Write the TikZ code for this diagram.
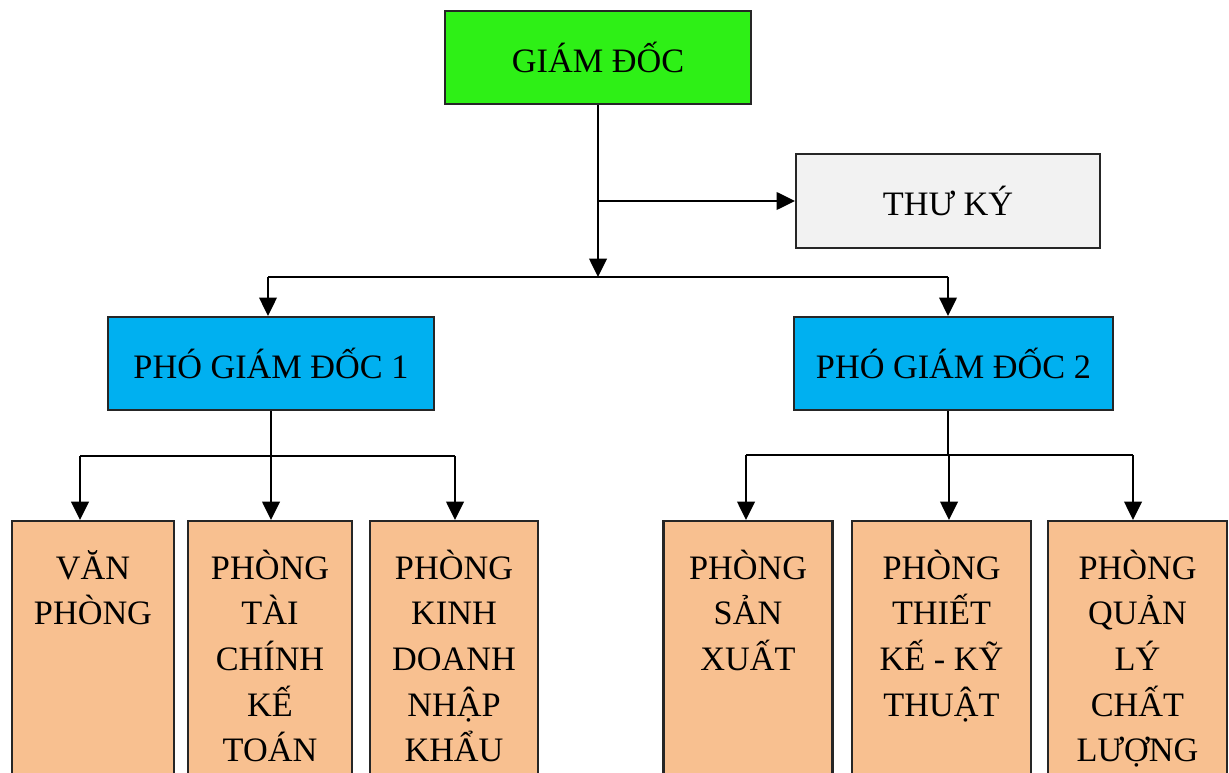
\documentclass[tikz,border=0pt]{standalone}
\usepackage{fontspec}
\setmainfont{Liberation Serif}
\usetikzlibrary{arrows.meta}

\definecolor{gdgreen}{HTML}{2EF016}
\definecolor{pgdblue}{HTML}{00B0F0}
\definecolor{phorange}{HTML}{F8C090}
\definecolor{tkgray}{HTML}{F2F2F2}

% text lines hanging from the first baseline
\newcommand{\deptlines}[1]{\begin{tabular}[t]{@{}c@{}}#1\end{tabular}}

\tikzset{
  box/.style={draw=black!85, line width=1.2pt, inner sep=0pt,
    font=\fontsize{19.5}{26}\selectfont},
  head/.style={box, minimum height=1.86cm},
  dept/.style={box, fill=phorange, anchor=north,
    text height=33pt, text depth=130pt},
  link/.style={line width=1.3pt},
  arr/.style={link, -{Triangle[length=10.5pt,width=10pt]}}
}

\begin{document}
\begin{tikzpicture}[x=0.02cm, y=-0.02cm]
  \useasboundingbox (0,0) rectangle (1229,773);
  \clip (0,0) rectangle (1229,773);

  % ban giam doc
  \node[head, fill=gdgreen, minimum width=6.12cm] (gd) at (598,57.5) {GIÁM ĐỐC};
  \node[head, fill=tkgray, minimum width=6.08cm, minimum height=1.88cm] (tk) at (948,201) {THƯ KÝ};
  \node[head, fill=pgdblue, minimum width=6.52cm] (pgd1) at (271,363.5) {PHÓ GIÁM ĐỐC 1};
  \node[head, fill=pgdblue, minimum width=6.38cm] (pgd2) at (953.5,363.5) {PHÓ GIÁM ĐỐC 2};

  % cac phong
  \node[dept, minimum width=3.24cm] (vp) at (93,520) {\deptlines{VĂN\\PHÒNG}};
  \node[dept, minimum width=3.28cm] (tckt) at (270,520) {\deptlines{PHÒNG\\TÀI\\CHÍNH\\KẾ\\TOÁN}};
  \node[dept, minimum width=3.36cm] (kdnk) at (454,520) {\deptlines{PHÒNG\\KINH\\DOANH\\NHẬP\\KHẨU}};
  \node[dept, minimum width=3.38cm] (sx) at (748,520) {\deptlines{PHÒNG\\SẢN\\XUẤT}};
  \node[dept, minimum width=3.58cm] (tkkt) at (941.5,520) {\deptlines{PHÒNG\\THIẾT\\KẾ - KỸ\\THUẬT}};
  \node[dept, minimum width=3.58cm] (qlcl) at (1137.5,520) {\deptlines{PHÒNG\\QUẢN\\LÝ\\CHẤT\\LƯỢNG}};

  % giam doc -> thu ky, pho giam doc
  \coordinate (hub) at (598,277);
  \coordinate (busL) at (268,277);
  \coordinate (busR) at (948,277);
  \draw[arr] (gd.south) -- (hub);
  \draw[arr] (gd.south |- tk.west) -- (tk.west);
  \draw[link] (busL) -- (busR);
  \draw[arr] (busL) -- (busL |- pgd1.north);
  \draw[arr] (busR) -- (busR |- pgd2.north);

  % pho giam doc 1 -> phong
  \coordinate (l1) at (80,456);
  \coordinate (l2) at (271,456);
  \coordinate (l3) at (455,456);
  \draw[link] (pgd1.south) -- (l2);
  \draw[link] (l1) -- (l3);
  \draw[arr] (l1) -- (l1 |- vp.north);
  \draw[arr] (l2) -- (l2 |- tckt.north);
  \draw[arr] (l3) -- (l3 |- kdnk.north);

  % pho giam doc 2 -> phong
  \coordinate (r0) at (948,455);
  \coordinate (r1) at (746,455);
  \coordinate (r2) at (949,455);
  \coordinate (r3) at (1133,455);
  \draw[link] (pgd2.south -| r0) -- (r0);
  \draw[link] (r1) -- (r3);
  \draw[arr] (r1) -- (r1 |- sx.north);
  \draw[arr] (r2) -- (r2 |- tkkt.north);
  \draw[arr] (r3) -- (r3 |- qlcl.north);
\end{tikzpicture}
\end{document}
